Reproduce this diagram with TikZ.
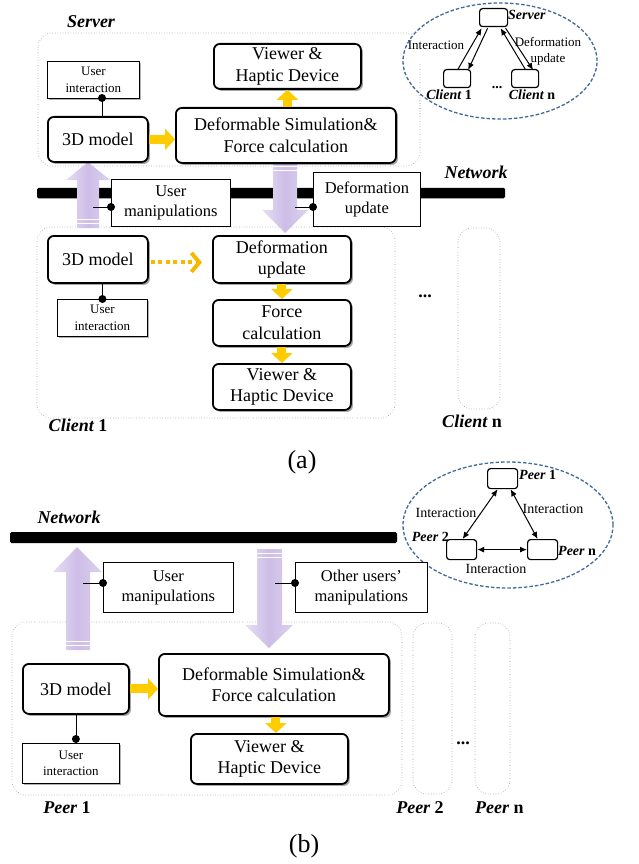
\documentclass[tikz,border=0pt]{standalone}
\usepackage{fontspec}
\setmainfont{Liberation Serif}
\usetikzlibrary{shadows,arrows.meta,calc,shapes.geometric}
\definecolor{gold}{HTML}{FFCC00}
\definecolor{goldd}{HTML}{F7B800}
\definecolor{lavL}{HTML}{E6DEF3}
\definecolor{lavM}{HTML}{CDBDE7}
\definecolor{lavR}{HTML}{DCD1EF}
\definecolor{eblue}{HTML}{41699A}
\begin{document}
\begin{tikzpicture}[x=1pt,y=-1pt,
  mainbox/.style={draw, line width=1.8pt, rounded corners=6pt, fill=white, align=center, inner sep=0pt,
    font=\fontsize{18}{21.5}\selectfont,
    drop shadow={shadow xshift=2pt, shadow yshift=-2pt, fill=black, opacity=0.35}},
  uibox/.style={draw, line width=0.8pt, fill=white, align=center, inner sep=0pt,
    font=\fontsize{13}{16.5}\selectfont,
    drop shadow={shadow xshift=2pt, shadow yshift=-2pt, fill=black, opacity=0.3}},
  mbox/.style={draw, line width=0.8pt, fill=white, align=center, inner sep=0pt,
    font=\fontsize{16.5}{20}\selectfont},
  region/.style={draw=gray!80, line width=0.6pt, dotted, rounded corners=14pt},
  ebox/.style={draw, line width=1.2pt, rounded corners=3pt, fill=white, inner sep=0pt},
  elbl/.style={font=\fontsize{13}{16}\selectfont, inner sep=0pt, align=center},
  elblb/.style={font=\fontsize{14}{16}\selectfont\bfseries, inner sep=0pt},
  biglbl/.style={font=\fontsize{18}{21}\selectfont\bfseries, inner sep=0pt},
  ell/.style={draw=eblue, dash pattern=on 3.5pt off 2pt, line width=1.3pt, ellipse, fill=white, inner sep=0pt},
  yarrow/.style={draw=gold, line width=9pt, -{Triangle[width=21pt,length=10pt]}},
  earrow/.style={line width=1pt, -{Latex[length=7pt,width=6pt]}},
  edarrow/.style={line width=1pt, {Latex[length=7pt,width=6pt]}-{Latex[length=7pt,width=6pt]}},
  lav/.style={left color=lavL, right color=lavR, middle color=lavM},
  stripe/.style={draw=white, line width=0.9pt},
  dotlink/.style={line width=0.6pt}
]
\useasboundingbox (0,0) rectangle (638,864);

% ================= (a) =================
\draw[region] (38,33) rectangle (420,166);
\draw[region] (37,227) rectangle (395,418);
\draw[region] (458,228) rectangle (500,409);

\node[fill=black, rounded corners=1.5pt, minimum width=468pt, minimum height=10.5pt, inner sep=0pt] (neta) at (271,193) {};
\node[biglbl, anchor=center] (netalbl) at (476,172) {\itshape Network};

\shade[lav] (88,162) -- (110,180) -- (99,180) -- (99,228) -- (77,228) -- (77,180) -- (66,180) -- cycle;
\draw[stripe] (77,219) -- (99,219);
\draw[stripe] (77,223) -- (99,223);
\shade[lav] (285,233) -- (308,210) -- (297,210) -- (297,162) -- (273,162) -- (273,210) -- (262,210) -- cycle;
\draw[stripe] (273,166) -- (297,166);
\draw[stripe] (273,170) -- (297,170);

\node[biglbl] (serverlbl) at (91,22) {\itshape Server};
\node[uibox, anchor=north west, minimum width=92pt, minimum height=37pt] (sui) at (47,61) {User\\interaction};
\node[mainbox, anchor=north west, minimum width=100pt, minimum height=45pt] (s3d) at (47,116) {3D model};
\node[mainbox, anchor=north west, minimum width=220pt, minimum height=55pt] (sdef) at (175,107) {Deformable Simulation\&\\Force calculation};
\node[mainbox, anchor=north west, minimum width=147pt, minimum height=45pt] (sview) at (213,43) {Viewer \&\\Haptic Device};
\coordinate (sdot) at (102,98);
\draw[dotlink] (sdot) -- (sdot |- s3d.north);
\fill (sdot) circle (4pt);
\draw[yarrow] (s3d.east) -- (s3d.east -| sdef.west);
\draw[yarrow] (sview.south |- sdef.north) -- (sview.south);

\node[mbox, anchor=north west, minimum width=119pt, minimum height=47pt] (uma) at (111,179) {User\\manipulations};
\coordinate (umaend) at (93,207);
\draw[dotlink] (umaend) -- (umaend -| uma.west);
\fill (umaend -| uma.west) circle (4pt);
\node[mbox, anchor=north west, minimum width=107pt, minimum height=54pt] (dua) at (313,172) {Deformation\\update};
\coordinate (duaend) at (295,207);
\draw[dotlink] (duaend) -- (duaend -| dua.west);
\fill (duaend -| dua.west) circle (4pt);

\node[mainbox, anchor=north west, minimum width=100pt, minimum height=47pt] (c3d) at (47,235) {3D model};
\node[mainbox, anchor=north west, minimum width=138pt, minimum height=47pt] (cdef) at (212,235) {Deformation\\update};
\node[uibox, anchor=north west, minimum width=90pt, minimum height=37pt] (cui) at (57,299) {User\\interaction};
\node[mainbox, anchor=north west, minimum width=138pt, minimum height=46pt] (cforce) at (212,299) {Force\\calculation};
\node[mainbox, anchor=north west, minimum width=138pt, minimum height=46pt] (cview) at (212,363) {Viewer \&\\Haptic Device};
\draw[dotlink] (cui.north) -- (cui.north |- c3d.south);
\fill (cui.north) circle (4pt);
\draw[draw=goldd, line width=4pt, dash pattern=on 4pt off 3.5pt,
  -{Straight Barb[length=8pt,width=19pt,line width=4pt]}] ([xshift=2pt,yshift=-3pt]c3d.east) -- ([xshift=-10pt,yshift=-3pt]c3d.east -| cdef.west);
\draw[yarrow] (cdef.south) -- (cforce.north);
\draw[yarrow] (cforce.south) -- (cview.north);
\node[biglbl] (cdots) at (425,296) {...};
\node[biglbl] (c1lbl) at (78,425) {\itshape Client\upshape\ 1};
\node[biglbl] (cnlbl) at (472,421) {\itshape Client\upshape\ n};
\node[font=\fontsize{26}{30}\selectfont, inner sep=0pt] (alabel) at (302,462) {(a)};

\node[ell, minimum width=194pt, minimum height=116pt] (ella) at (500,61) {};
\begin{scope}
  \clip (400,64) rectangle (440,118);
  \draw[region] (38,33) rectangle (420,166);
\end{scope}
\node[ebox, anchor=north west, minimum width=28pt, minimum height=18pt] (eserv) at (479,8) {};
\node[ebox, anchor=north west, minimum width=27pt, minimum height=18pt] (ec1) at (443,69) {};
\node[ebox, anchor=north west, minimum width=27pt, minimum height=18pt] (ecn) at (511,69) {};
\node[elblb, anchor=west] (eservlbl) at (508,15) {\itshape Server};
\node[elblb] (ec1lbl) at (449,95) {\itshape Client\upshape\ 1};
\node[elblb] (ecnlbl) at (532,95) {\itshape Client\upshape\ n};
\node[elblb] (edots) at (497,88) {...};
\draw[earrow] ([xshift=1pt]ec1.north) -- ([xshift=-12pt,yshift=-1pt]eserv.south);
\draw[earrow] ([xshift=-6pt,yshift=-1pt]eserv.south) -- ([xshift=11pt,yshift=-1pt]ec1.north);
\draw[earrow] ([xshift=0pt]ecn.north) -- ([xshift=7pt,yshift=-1pt]eserv.south);
\draw[earrow] ([xshift=12pt,yshift=-1pt]eserv.south) -- ([xshift=8pt,yshift=-1pt]ecn.north);
\node[elbl] (einter) at (436,45) {Interaction};
\node[elbl] (edefup) at (548,51) {Deformation\\update};

% ================= (b) =================
\draw[region] (12,622) rectangle (402,795);
\draw[region] (413,623) rectangle (452,794);
\draw[region] (475,623) rectangle (510,794);

\node[biglbl] (netblbl) at (69,517) {\itshape Network};
\node[fill=black, rounded corners=1.5pt, minimum width=387pt, minimum height=11pt, inner sep=0pt] (netb) at (203.5,537.5) {};

\shade[lav] (77,547) -- (102,572) -- (90,572) -- (90,650) -- (66,650) -- (66,572) -- (53,572) -- cycle;
\draw[stripe] (66,641) -- (90,641);
\draw[stripe] (66,645) -- (90,645);
\shade[lav] (269,648) -- (293,625) -- (282,625) -- (282,549) -- (257,549) -- (257,625) -- (245,625) -- cycle;
\draw[stripe] (257,553) -- (282,553);
\draw[stripe] (257,557) -- (282,557);

\node[ell, minimum width=210pt, minimum height=126pt] (ellb) at (508,525) {};
\node[ebox, anchor=north west, minimum width=30pt, minimum height=20pt] (ep1) at (487,468) {};
\node[ebox, anchor=north west, minimum width=30pt, minimum height=20pt] (ep2) at (446,539) {};
\node[ebox, anchor=north west, minimum width=30pt, minimum height=20pt] (epn) at (527,539) {};
\node[elblb, anchor=west] (ep1lbl) at (519,475) {\itshape Peer\upshape\ 1};
\node[elblb, anchor=east] (ep2lbl) at (449,537) {\itshape Peer\upshape\ 2};
\node[elblb, anchor=west] (epnlbl) at (558,551) {\itshape Peer\upshape\ n};
\draw[edarrow] ([xshift=-5pt]ep1.south) -- ([xshift=1pt]ep2.north);
\draw[edarrow] ([xshift=8pt]ep1.south) -- ([xshift=-5pt]epn.north);
\draw[edarrow] (ep2.east) -- (epn.west);
\node[elbl, font=\fontsize{14}{16}\selectfont] (ei1) at (446,513) {Interaction};
\node[elbl, font=\fontsize{14}{16}\selectfont] (ei2) at (553,509) {Interaction};
\node[elbl, font=\fontsize{14}{16}\selectfont] (ei3) at (496,569) {Interaction};

\node[mbox, anchor=north west, minimum width=130pt, minimum height=50pt] (umb) at (103,562) {User\\manipulations};
\coordinate (umbend) at (83,583);
\draw[dotlink] (umbend) -- (umbend -| umb.west);
\fill (umbend -| umb.west) circle (4pt);
\node[mbox, anchor=north west, minimum width=132pt, minimum height=50pt] (oumb) at (295,562) {Other users’\\manipulations};
\coordinate (oumbend) at (275,583);
\draw[dotlink] (oumbend) -- (oumbend -| oumb.west);
\fill (oumbend -| oumb.west) circle (4pt);

\node[mainbox, anchor=north west, minimum width=106pt, minimum height=50pt] (p3d) at (22,663) {3D model};
\node[mainbox, anchor=north west, minimum width=230pt, minimum height=62pt] (pdef) at (158,653) {Deformable Simulation\&\\Force calculation};
\node[mainbox, anchor=north west, minimum width=157pt, minimum height=50pt] (pview) at (190,733) {Viewer \&\\Haptic Device};
\node[uibox, anchor=north west, minimum width=97pt, minimum height=40pt] (pui) at (22,743) {User\\interaction};
\draw[dotlink] (p3d.south) -- (p3d.south |- pui.north);
\fill ([yshift=4pt]p3d.south |- pui.north) circle (4pt);
\draw[yarrow] (p3d.east) -- (p3d.east -| pdef.west);
\draw[yarrow] ([xshift=2pt]pdef.south) -- ([xshift=2pt]pdef.south |- pview.north);
\node[biglbl] (pdots) at (463,743) {...};
\node[biglbl] (p1lbl) at (67,808) {\itshape Peer\upshape\ 1};
\node[biglbl] (p2lbl) at (420,808) {\itshape Peer\upshape\ 2};
\node[biglbl, anchor=west] (pnlbl) at (475,808) {\itshape Peer\upshape\ n};
\node[font=\fontsize{26}{30}\selectfont, inner sep=0pt] (blabel) at (304,846) {(b)};
\end{tikzpicture}
\end{document}
